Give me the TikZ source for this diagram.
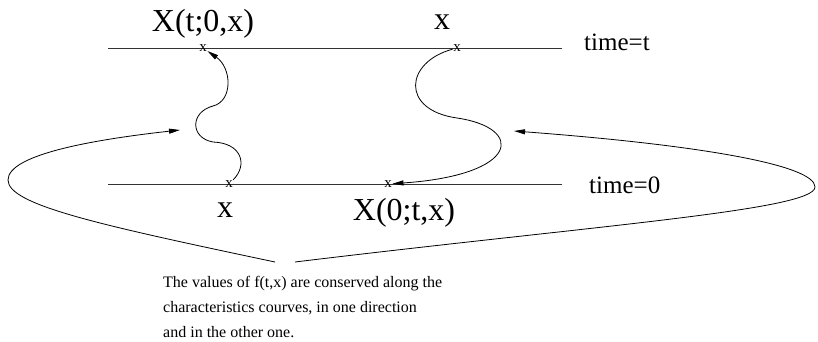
\documentclass[tikz,border=0pt]{standalone}
\usepackage{fontspec}
\setmainfont{Liberation Serif}
\usetikzlibrary{arrows.meta}

\begin{document}
\begin{tikzpicture}[
    x=1pt, y=-1pt,
    axis/.style={draw=black!80, line width=0.8pt},
    fl/.style={draw=black, line width=0.8pt, -{Triangle[length=11pt,width=5pt]}},
    xmark/.style={font=\fontsize{15}{15}\selectfont, inner sep=0.5pt},
    big/.style={font=\fontsize{32}{38}\selectfont, inner sep=0pt},
    tlabel/.style={font=\fontsize{25}{30}\selectfont, inner sep=0pt},
    note/.style={font=\fontsize{16}{25}\selectfont, align=left, inner sep=0pt}
  ]
  \useasboundingbox (0,0) rectangle (818,342);
  \coordinate (t0) at (108,48);
  \coordinate (t1) at (562,48);
  \coordinate (b0) at (108,184);
  \coordinate (b1) at (562,184);
  \draw[axis] (t0) -- (t1);
  \draw[axis] (b0) -- (b1);
  \node[xmark] (mt1) at (203,48) {x};
  \node[xmark] (mt2) at (457,48) {x};
  \node[xmark] (mb1) at (229,184) {x};
  \node[xmark] (mb2) at (388,184) {x};
  \node[big, anchor=base] (lXt) at (203,32) {X(t;0,x)};
  \node[big, anchor=base] (lxt) at (442,30) {x};
  \node[tlabel, anchor=base west] (ltt) at (584,51) {time=t};
  \node[tlabel, anchor=base west] (lt0) at (589,193) {time=0};
  \node[big, anchor=base] (lx0) at (225,217) {x};
  \node[big, anchor=base] (lX0) at (404,220) {X(0;t,x)};
  \node[note, anchor=base west] (note) at (163,337)
    {The values of f(t,x) are conserved along the\\
     characteristics courves, in one direction\\
     and in the other one.};
  \coordinate (cl0) at (275,262);
  \coordinate (cl1) at (180,130);
  \coordinate (cr0) at (295,262);
  \coordinate (cr1) at (514,131);
  \draw[fl] (mb1) .. controls (248,165) and (242,143) .. (213,142)
    .. controls (190,138) and (190,112) .. (213,106)
    .. controls (233,101) and (232,68) .. (mt1);
  \draw[fl] (mt2) .. controls (405,62) and (400,110) .. (457,118)
    .. controls (525,128) and (520,175) .. (mb2);
  \draw[fl] (cl0) .. controls (100,225) and (8,205) .. (8,180)
    .. controls (8,155) and (90,140) .. (cl1);
  \draw[fl] (cr0) .. controls (600,225) and (815,210) .. (815,187)
    .. controls (815,165) and (700,145) .. (cr1);
\end{tikzpicture}
\end{document}
